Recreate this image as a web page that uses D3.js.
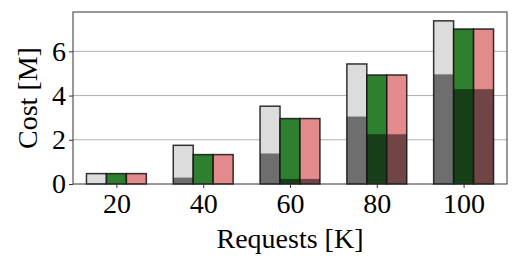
<!DOCTYPE html>
<html>
<head>
<meta charset="utf-8">
<script src="https://cdn.jsdelivr.net/npm/d3@7.9.0/dist/d3.min.js"></script>
<style>
  body { margin: 0; background: #fff; }
</style>
</head>
<body>
<svg id="chart" width="527" height="265"></svg>
<script>
// requests (K) on the x axis
const requests = [20, 40, 60, 80, 100];
const series = ['grey', 'green', 'pink'];
// total cost per bar
const totals = {
  grey:  [0.47, 1.75, 3.52, 5.43, 7.38],
  green: [0.47, 1.33, 2.96, 4.93, 7.01],
  pink:  [0.47, 1.33, 2.96, 4.93, 7.01]
};
// darker bottom part of each bar
const lower = {
  grey:  [0.0, 0.29, 1.38, 3.05, 4.96],
  green: [0.0, 0.0, 0.23, 2.25, 4.29],
  pink:  [0.0, 0.0, 0.23, 2.25, 4.29]
};
const yTicks = [0, 2, 4, 6];

const colors = { grey: '#dcdcdc', green: '#2e7f2e', pink: '#e38a8c' };
const FONT = '"Liberation Serif", "Times New Roman", serif';

const svg = d3.select('#chart');
const m = { left: 73, right: 507, top: 12, bottom: 184 };

const x = d3.scaleLinear().domain([10, 110]).range([m.left, m.right]);
const y = d3.scaleLinear().domain([0, 7.78]).range([m.bottom, m.top]);
const barW = 4.6; // in x units
const offsets = { grey: -1, green: 0, pink: 1 };

// grid
svg.append('g')
  .selectAll('line')
  .data(yTicks.slice(1))
  .join('line')
  .attr('x1', m.left).attr('x2', m.right)
  .attr('y1', d => y(d)).attr('y2', d => y(d))
  .attr('stroke', '#b0b0b0').attr('stroke-width', 1);

series.forEach(s => {
  const g = svg.append('g');
  const x0 = i => x(requests[i] + offsets[s] * barW - barW / 2);
  const w = x(barW) - x(0);
  g.selectAll('rect.top')
    .data(totals[s])
    .join('rect')
    .attr('x', (d, i) => x0(i))
    .attr('width', w)
    .attr('y', d => y(d))
    .attr('height', d => y(0) - y(d))
    .attr('fill', colors[s]);
  g.selectAll('rect.low')
    .data(lower[s])
    .join('rect')
    .attr('x', (d, i) => x0(i))
    .attr('width', w)
    .attr('y', d => y(d))
    .attr('height', d => y(0) - y(d))
    .attr('fill', '#000')
    .attr('fill-opacity', 0.5);
  g.selectAll('rect.edge')
    .data(totals[s])
    .join('rect')
    .attr('x', (d, i) => x0(i))
    .attr('width', w)
    .attr('y', d => y(d))
    .attr('height', d => y(0) - y(d))
    .attr('fill', 'none')
    .attr('stroke', '#111')
    .attr('stroke-opacity', 0.85)
    .attr('stroke-width', 1.5);
});

// frame
svg.append('rect')
  .attr('x', m.left).attr('y', m.top)
  .attr('width', m.right - m.left).attr('height', m.bottom - m.top)
  .attr('fill', 'none').attr('stroke', '#333').attr('stroke-width', 1);

const xAxis = svg.append('g')
  .attr('transform', `translate(0,${m.bottom})`)
  .call(d3.axisBottom(x).tickValues(requests).tickSize(4).tickPadding(5));
xAxis.select('.domain').remove();

const yAxis = svg.append('g')
  .attr('transform', `translate(${m.left},0)`)
  .call(d3.axisLeft(y).tickValues(yTicks).tickSize(4).tickPadding(3));
yAxis.select('.domain').remove();

svg.selectAll('.tick line').attr('stroke', '#333');
svg.selectAll('.tick text')
  .style('font-family', FONT).style('font-size', '28px').attr('fill', '#000');

svg.append('text')
  .attr('x', (m.left + m.right) / 2).attr('y', 248)
  .attr('text-anchor', 'middle')
  .style('font-family', FONT).style('font-size', '28px')
  .text('Requests [K]');

svg.append('text')
  .attr('transform', `translate(37,${(m.top + m.bottom) / 2}) rotate(-90)`)
  .attr('text-anchor', 'middle')
  .style('font-family', FONT).style('font-size', '28px')
  .text('Cost [M]');
</script>
</body>
</html>
